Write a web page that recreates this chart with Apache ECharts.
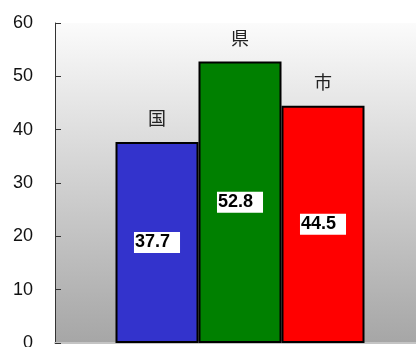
<!DOCTYPE html>
<html>
<head>
<meta charset="utf-8">
<script src="https://cdn.jsdelivr.net/npm/echarts@6/dist/echarts.min.js"></script>
<style>
  html, body { margin: 0; padding: 0; background: #fff; }
  #chart { width: 416px; height: 347px; }
</style>
</head>
<body>
<div id="chart"></div>
<script>
// Comparison of the three levels: national, prefectural, municipal
const categories = ['国', '県', '市'];
const values = [37.7, 52.8, 44.5];
const barColors = ['#3333cc', '#008000', '#ff0000'];
const yTicks = [0, 10, 20, 30, 40, 50, 60];

const latin = "'Liberation Sans', Arial, sans-serif";
const cjk = "'Noto Sans CJK JP', 'Noto Sans CJK SC', sans-serif";

const chart = echarts.init(document.getElementById('chart'), null, { renderer: 'canvas' });

// one bar series per level, sitting side by side in a single slot
const series = categories.map((name, i) => ({
  name: name,
  type: 'bar',
  barWidth: 83,
  barGap: '0%',
  data: [values[i]],
  itemStyle: { color: barColors[i], borderColor: '#000', borderWidth: 2 },
  label: {
    show: true,
    position: 'inside',
    formatter: p => p.value.toFixed(1),
    color: '#000',
    fontFamily: latin,
    fontWeight: 'bold',
    fontSize: 18,
    backgroundColor: '#fff',
    padding: [2, 10, 1, 1]
  },
  markPoint: {
    symbol: 'circle',
    symbolSize: 1,
    itemStyle: { color: 'transparent' },
    data: [{ type: 'max' }],
    label: {
      show: true,
      position: 'top',
      distance: 14,
      formatter: () => name,
      color: '#222',
      fontFamily: cjk,
      fontSize: 18
    }
  }
}));

chart.setOption({
  animation: false,
  backgroundColor: '#fff',
  grid: {
    left: 55, right: -9, top: 23, bottom: 4,
    outerBoundsMode: 'none',
    containLabel: false,
    show: true,
    borderWidth: 0,
    backgroundColor: new echarts.graphic.LinearGradient(0, 0, 0, 1, [
      { offset: 0, color: '#fbfbfb' },
      { offset: 1, color: '#a6a6a6' }
    ])
  },
  xAxis: {
    type: 'category',
    data: [''],
    axisLine: { show: true, lineStyle: { color: '#c4c4c4', width: 2 } },
    axisTick: { show: false },
    axisLabel: { show: false }
  },
  yAxis: {
    type: 'value',
    min: yTicks[0],
    max: yTicks[yTicks.length - 1],
    interval: yTicks[1] - yTicks[0],
    splitLine: { show: false },
    axisLine: { show: true, lineStyle: { color: '#333', width: 1 } },
    axisTick: { show: true, inside: true, length: 6, lineStyle: { color: '#333' } },
    axisLabel: { color: '#111', fontFamily: latin, fontSize: 18, margin: 22 }
  },
  series: series
});
</script>
</body>
</html>
